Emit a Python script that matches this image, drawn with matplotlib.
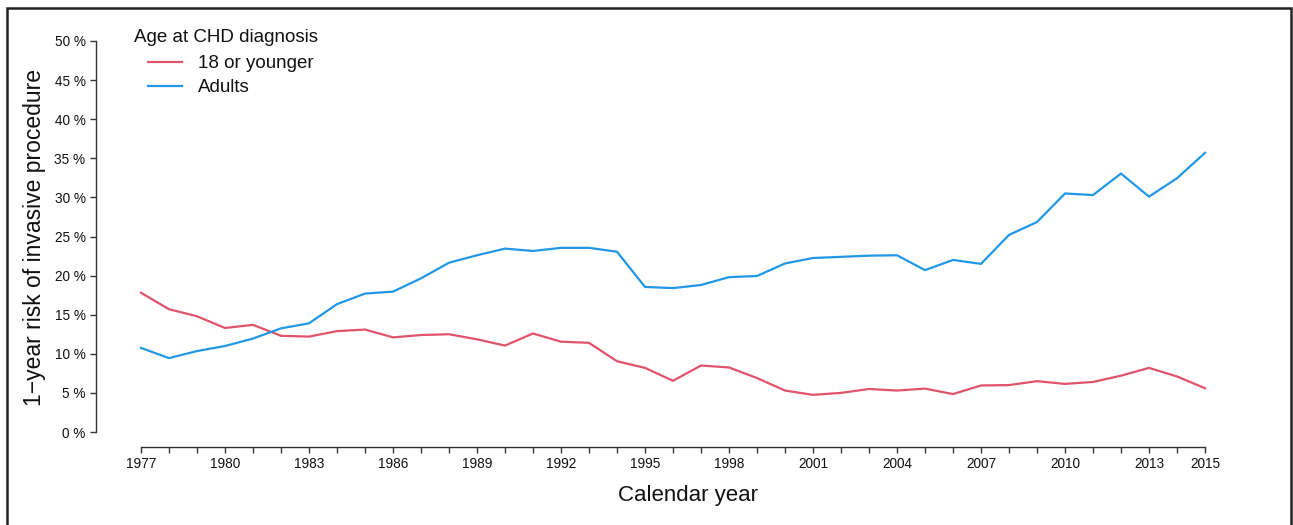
import matplotlib
matplotlib.use("Agg")
import matplotlib.pyplot as plt
from matplotlib.patches import Rectangle
from matplotlib.lines import Line2D

plt.rcParams['font.family'] = ['Liberation Sans', 'DejaVu Sans']

# Calendar years and 1-year risk (%) of an invasive procedure by age at CHD diagnosis
years = list(range(1977, 2016))
risk_young = [17.8, 15.7, 14.8, 13.3, 13.7, 12.3, 12.2, 12.9, 13.1, 12.1,
              12.4, 12.5, 11.85, 11.05, 12.6, 11.55, 11.4, 9.05, 8.2, 6.55,
              8.5, 8.25, 6.9, 5.3, 4.75, 5.0, 5.5, 5.3, 5.55, 4.85,
              5.95, 6.0, 6.5, 6.15, 6.4, 7.2, 8.2, 7.1, 5.6]
risk_adult = [10.75, 9.45, 10.35, 11.0, 11.95, 13.25, 13.9, 16.35, 17.7, 17.95,
              19.65, 21.65, 22.6, 23.45, 23.15, 23.55, 23.55, 23.05, 18.55, 18.4,
              18.8, 19.8, 19.95, 21.55, 22.25, 22.4, 22.55, 22.6, 20.7, 22.0,
              21.5, 25.2, 26.85, 30.5, 30.3, 33.05, 30.1, 32.45, 35.7]
series_labels = ["18 or younger", "Adults"]
series_colors = ["#DF536B", "#2297E6"]
legend_title = "Age at CHD diagnosis"
y_ticks = list(range(0, 55, 5))
x_label_years = list(range(1977, 2014, 3)) + [2015]

W, H = 1293, 525
fig = plt.figure(figsize=(W / 100, H / 100), dpi=100)

# axes box in pixel terms: y-axis line at x=96, x-axis line at y=447
left_px, right_px, top_px, bottom_px = 96, 1205, 41, 447
ax = fig.add_axes([left_px / W, 1 - bottom_px / H,
                   (right_px - left_px) / W, (bottom_px - top_px) / H])

px_per_year = (1205 - 141) / 38
px_per_pct = (432 - 41) / 50
ax.set_xlim(1977 - (141 - left_px) / px_per_year, 2015)
ax.set_ylim(-(bottom_px - 432) / px_per_pct, 50)

for vals, col in zip([risk_young, risk_adult], series_colors):
    ax.plot(years, vals, color=col, lw=1.6, solid_joinstyle='miter', clip_on=False)

for s in ['top', 'right']:
    ax.spines[s].set_visible(False)
axis_col = '#333333'
ax.spines['left'].set_bounds(0, 50)
ax.spines['bottom'].set_bounds(1977, 2015)
for s in ['left', 'bottom']:
    ax.spines[s].set_color(axis_col)
    ax.spines[s].set_linewidth(1.0)

ax.set_yticks(y_ticks)
ax.set_yticklabels([f"{v} %" for v in y_ticks])
ax.set_xticks(years)
ax.set_xticklabels([str(y) if y in x_label_years else "" for y in years])
ax.tick_params(axis='both', length=4.5, width=1.0, color=axis_col,
               labelsize=9.8, labelcolor='#111111')
ax.tick_params(axis='y', pad=3)
ax.tick_params(axis='x', pad=3)

fig.text(35 / W, 1 - 237 / H, "1\u2212year risk of invasive procedure",
         rotation=90, ha='center', va='center', fontsize=16.5, color='#111111')
fig.text(688 / W, 1 - 496 / H, "Calendar year", ha='center', va='center',
         fontsize=16, color='#111111')

# legend: title, then a short line sample and label per series
fig.text(134 / W, 1 - 35 / H, legend_title, ha='left', va='center_baseline',
         fontsize=13.5, color='#111111')
for i, (lab, col) in enumerate(zip(series_labels, series_colors)):
    yy = 1 - (62 + 24 * i) / H
    fig.add_artist(Line2D([148 / W, 182 / W], [yy, yy], color=col, lw=1.6,
                          transform=fig.transFigure))
    fig.text(198 / W, yy, lab, ha='left', va='center_baseline', fontsize=13.5,
             color='#111111')

# outer frame around the figure
fig.patches.append(Rectangle((7 / W, -0.05), (1291 - 7) / W, 1.05 - 8 / H,
                             transform=fig.transFigure, fill=False,
                             edgecolor='#222222', lw=1.8))

fig.savefig("out.png", dpi=100)
